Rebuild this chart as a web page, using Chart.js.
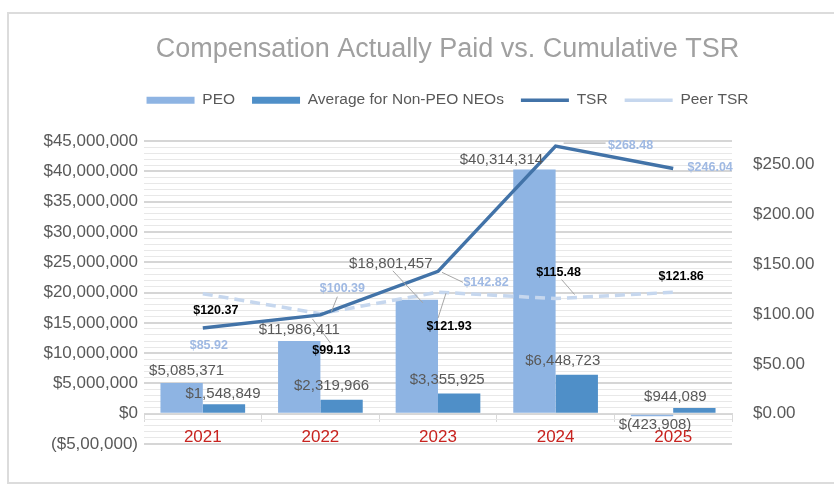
<!DOCTYPE html>
<html>
<head>
<meta charset="utf-8">
<script src="https://cdn.jsdelivr.net/npm/chart.js@4.4.1/dist/chart.umd.min.js"></script>
<style>
  html, body { margin: 0; padding: 0; background: #fff; }
  #wrap { position: relative; width: 834px; height: 484px; overflow: hidden; }
  #frame { position: absolute; left: 7px; top: 12px; width: 840px; height: 468px;
           border-left: 2px solid #dcdcdc; border-top: 2px solid #dcdcdc; border-bottom: 2px solid #dcdcdc;
           pointer-events: none; }
</style>
</head>
<body>
<div id="wrap">
  <canvas id="capChart" width="834" height="484"></canvas>
  <div id="frame"></div>
</div>
<script>
// data
const years = ['2021', '2022', '2023', '2024', '2025'];
const peo = [5085371, 11986411, 18801457, 40314314, -423908];
const nonPeo = [1548849, 2319966, 3355925, 6448723, 944089];
const tsr = [85.92, 99.13, 142.82, 268.48, 246.04];
const peerTsr = [120.37, 100.39, 121.93, 115.48, 121.86];

const leftTicks = [-5000000, 0, 5000000, 10000000, 15000000, 20000000, 25000000, 30000000, 35000000, 40000000, 45000000];
const leftTickLabels = ['($5,00,000)', '$0', '$5,000,000', '$10,000,000', '$15,000,000', '$20,000,000',
                        '$25,000,000', '$30,000,000', '$35,000,000', '$40,000,000', '$45,000,000'];
const rightTicks = [0, 50, 100, 150, 200, 250];

// label placement (offset of label centre from the mark), by dataset index
const LIGHT = '#9fb9e3';
const labelSpots = {
    0: [[5, -12], [0, -11], [-26, -36], [-33, -10], [3, 9]],
    1: [[-1, -10], [-10, -14], [-12, -14], [-14, -14], [-19, -11]],
    2: [[6, 17, LIGHT], [11, 36, '#000'], [48, 11, LIGHT], [75, -1, LIGHT], [37, -1, LIGHT]],
    3: [[13, 17, '#000'], [22, -25, LIGHT], [11, 34, '#000'], [3, -26, '#000'], [8, -16, '#000']]
};
// leader lines: dataset, index, x1, y1, x2, y2 relative to the mark
const leaders = [
    [0, 2, -24, -29, 6, 3],
    [2, 1, -8, 4, 10, 28],
    [2, 2, 4, 1, 25, 11],
    [2, 3, 8, -3, 50, -3],
    [3, 1, 17, -17, 11, -2],
    [3, 2, 8, 1, 0, 26],
    [3, 3, 6, -19, 19, -4]
];

const FONT = "'Liberation Sans', Arial, sans-serif";

function money(v) {
    const s = Math.abs(v).toLocaleString('en-US');
    return v < 0 ? '$(' + s + ')' : '$' + s;
}

const valueLabels = {
    id: 'valueLabels',
    afterDatasetsDraw(chart) {
        const ctx = chart.ctx;
        ctx.save();
        ctx.strokeStyle = '#a6a6a6';
        ctx.lineWidth = 1;
        leaders.forEach(([ds, i, x1, y1, x2, y2]) => {
            const el = chart.getDatasetMeta(ds).data[i];
            ctx.beginPath();
            ctx.moveTo(el.x + x1, el.y + y1);
            ctx.lineTo(el.x + x2, el.y + y2);
            ctx.stroke();
        });
        ctx.textAlign = 'center';
        ctx.textBaseline = 'middle';
        Object.keys(labelSpots).forEach(key => {
            const ds = Number(key);
            const meta = chart.getDatasetMeta(ds);
            const values = chart.data.datasets[ds].data;
            labelSpots[ds].forEach((spot, i) => {
                const el = meta.data[i];
                if (ds < 2) {
                    ctx.font = '15px ' + FONT;
                    ctx.fillStyle = '#595959';
                    ctx.fillText(money(values[i]), el.x + spot[0], el.y + spot[1]);
                } else {
                    ctx.font = 'bold 12.5px ' + FONT;
                    ctx.fillStyle = spot[2];
                    ctx.fillText('$' + values[i].toFixed(2), el.x + spot[0], el.y + spot[1]);
                }
            });
        });
        ctx.restore();
    }
};

const ctx = document.getElementById('capChart').getContext('2d');
const chart = new Chart(ctx, {
    type: 'bar',
    data: {
        labels: years,
        datasets: [{
            label: 'PEO',
            data: peo,
            backgroundColor: '#8eb4e3',
            yAxisID: 'y',
            order: 1,
            pointStyle: 'rect',
            categoryPercentage: 0.72,
            barPercentage: 1
        }, {
            label: 'Average for Non-PEO NEOs',
            data: nonPeo,
            backgroundColor: '#4f8fc8',
            yAxisID: 'y',
            order: 1,
            pointStyle: 'rect',
            categoryPercentage: 0.72,
            barPercentage: 1
        }, {
            type: 'line',
            label: 'TSR',
            data: tsr,
            borderColor: '#4273a8',
            backgroundColor: '#4273a8',
            borderWidth: 3.5,
            pointRadius: 0,
            pointStyle: 'line',
            tension: 0,
            yAxisID: 'y1',
            order: 0
        }, {
            type: 'line',
            label: 'Peer TSR',
            data: peerTsr,
            borderColor: '#c6d7ee',
            backgroundColor: '#c6d7ee',
            borderWidth: 3.5,
            borderDash: [10, 6],
            pointRadius: 0,
            pointStyle: 'line',
            tension: 0,
            yAxisID: 'y1',
            order: 0
        }]
    },
    options: {
        responsive: false,
        animation: false,
        layout: {
            // right padding is negative so the title/legend centre sits where the reference has it
            padding: { left: 43, right: -18, top: 12, bottom: 40 }
        },
        plugins: {
            title: {
                display: true,
                text: 'Compensation Actually Paid vs. Cumulative TSR',
                color: '#a0a0a0',
                font: { family: FONT, size: 27, weight: 'normal' },
                padding: { top: 21, bottom: 10 }
            },
            // empty subtitle used as a spacer between legend and plot
            subtitle: {
                display: true,
                text: '',
                weight: 500,
                font: { size: 1 },
                padding: { top: 22, bottom: 0 }
            },
            legend: {
                labels: {
                    usePointStyle: true,
                    pointStyleWidth: 48,
                    boxHeight: 7,
                    color: '#595959',
                    font: { family: FONT, size: 15.5 },
                    padding: 17,
                    sort: (a, b) => a.datasetIndex - b.datasetIndex
                }
            },
            tooltip: { enabled: false }
        },
        scales: {
            x: {
                position: { y: 0 },
                ticks: {
                    color: '#c8231f',
                    font: { family: FONT, size: 17 },
                    padding: 5
                },
                grid: {
                    offset: true,
                    drawOnChartArea: false,
                    drawTicks: true,
                    tickLength: 8,
                    color: '#d9d9d9'
                },
                border: { display: true, color: '#d9d9d9' }
            },
            y: {
                position: 'left',
                min: leftTicks[0],
                max: leftTicks[leftTicks.length - 1],
                afterBuildTicks: function(scale) {
                    const ticks = [];
                    for (let v = leftTicks[0]; v <= leftTicks[leftTicks.length - 1]; v += 1000000) {
                        ticks.push({ value: v });
                    }
                    scale.ticks = ticks;
                },
                afterFit: function(scale) {
                    scale.width = 101;
                },
                ticks: {
                    autoSkip: false,
                    padding: 6,
                    color: '#595959',
                    font: { family: FONT, size: 17 },
                    callback: function(value) {
                        const k = leftTicks.indexOf(value);
                        return k >= 0 ? leftTickLabels[k] : '';
                    }
                },
                grid: {
                    drawTicks: false,
                    color: (c) => (c.tick && c.tick.value % 5000000 === 0) ? '#d6d6d6' : '#e8e8e8',
                    lineWidth: (c) => (c.tick && c.tick.value % 5000000 === 0) ? 2 : 1
                },
                border: { display: false }
            },
            y1: {
                position: 'right',
                min: -30.4,
                max: 273.5,
                afterBuildTicks: function(scale) {
                    scale.ticks = rightTicks.map(v => ({ value: v }));
                },
                afterFit: function(scale) {
                    scale.width = 120;
                },
                ticks: {
                    autoSkip: false,
                    padding: 21,
                    color: '#595959',
                    font: { family: FONT, size: 17 },
                    callback: (value) => '$' + Number(value).toFixed(2)
                },
                grid: { display: false, drawTicks: false },
                border: { display: false }
            }
        }
    },
    plugins: [valueLabels]
});
</script>
</body>
</html>
